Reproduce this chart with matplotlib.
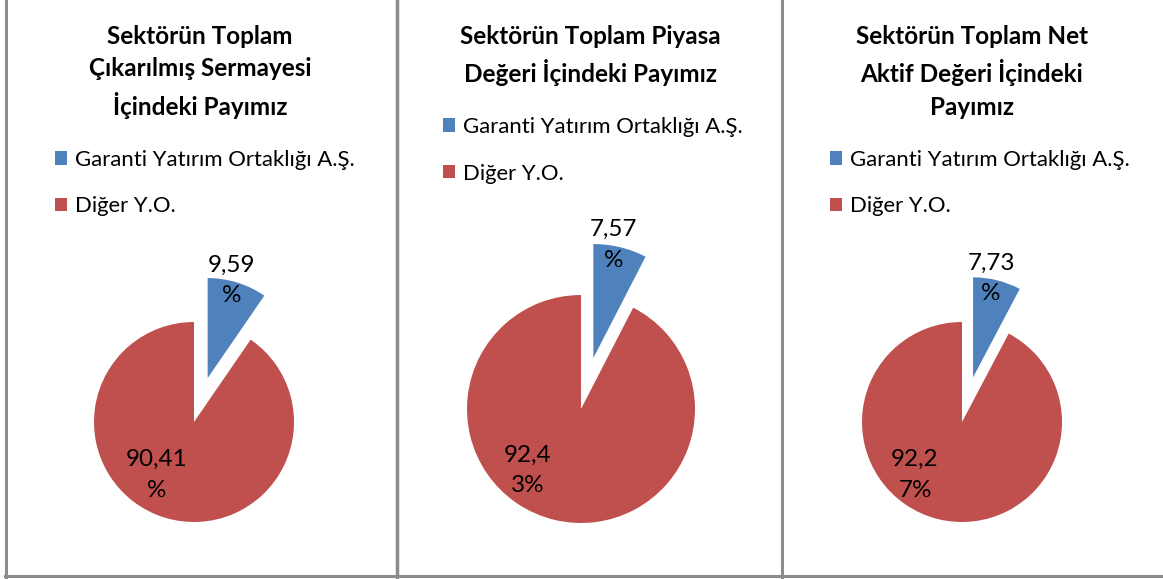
import matplotlib
matplotlib.use("Agg")
import matplotlib.pyplot as plt
from matplotlib.lines import Line2D

plt.rcParams['font.family'] = ['Lato', 'DejaVu Sans']

# Veriler
titles = [
    "Sektörün Toplam\nÇıkarılmış Sermayesi\nİçindeki Payımız",
    "Sektörün Toplam Piyasa\nDeğeri İçindeki Payımız",
    "Sektörün Toplam Net\nAktif Değeri İçindeki\nPayımız",
]
categories = ["Garanti Yatırım Ortaklığı A.Ş.", "Diğer Y.O."]
garanti_share = [9.59, 7.57, 7.73]
diger_share = [90.41, 92.43, 92.27]
# Excel'in etiket kaydırması
garanti_labels = ["9,59\n%", "7,57\n%", "7,73\n%"]
diger_labels = ["90,41\n%", "92,4\n3%", "92,2\n7%"]

colors = ["#4F81BD", "#C0504D"]

W, H = 1163, 579
fig = plt.figure(figsize=(W / 100, H / 100), dpi=100)

# yerleşim (piksel)
pie_center = [(194, 422), (581, 409), (962, 422)]
pie_radius = [100, 114, 100]
title_x = [200, 590, 972]
legend_pos = [(55, 150), (443, 117), (830, 150)]
red_label_off = [(-0.37, -0.53), (-0.47, -0.54), (-0.47, -0.53)]

for i in range(3):
    cx, cy = pie_center[i]
    r = pie_radius[i]
    ext = 1.7
    ax = fig.add_axes([(cx - ext * r) / W, (H - cy - ext * r) / H,
                       2 * ext * r / W, 2 * ext * r / H])
    vals = [garanti_share[i], diger_share[i]]
    labs = [garanti_labels[i], diger_labels[i]]
    wedges, texts, autotexts = ax.pie(
        vals, colors=colors, startangle=90, counterclock=False,
        explode=[0.46, 0], autopct=lambda p: "", pctdistance=1.0,
        wedgeprops=dict(linewidth=0))
    ax.set_xlim(-ext, ext)
    ax.set_ylim(-ext, ext)
    ax.set_axis_off()
    # etiketler
    bx, by = autotexts[0].get_position()
    autotexts[0].set_text(labs[0])
    autotexts[0].set_position((bx - 0.06, by + 0.02))
    autotexts[1].set_text(labs[1])
    autotexts[1].set_position(red_label_off[i])
    for t in autotexts:
        t.set_fontsize(17.5)
        t.set_color("black")
        t.set_linespacing(1.55)
        t.set_clip_on(False)

    fig.text(title_x[i] / W, 1 - 25 / H, titles[i], ha="center", va="top",
             fontsize=17.5, fontweight="bold", linespacing=1.5)

    lx, ly = legend_pos[i]
    fig.legend(wedges, categories, loc="upper left",
               bbox_to_anchor=(lx / W, 1 - ly / H), frameon=False,
               fontsize=15.9, handlelength=0.56, handleheight=0.56,
               handletextpad=0.35, labelspacing=1.2, borderpad=0,
               borderaxespad=0)

# çerçeve çizgileri
gray = "#8C8C8C"
def vline(x, y0, y1, lw=2.2):
    fig.add_artist(Line2D([x / W, x / W], [1 - y0 / H, 1 - y1 / H],
                          color=gray, linewidth=lw))

vline(6, 0, 577)
vline(396.5, 0, 577, lw=2.5)
vline(782, 0, 577)
fig.add_artist(Line2D([5 / W, 1.0], [1 - 576 / H, 1 - 576 / H],
                      color=gray, linewidth=2.2))

fig.savefig("out.png", dpi=100)
